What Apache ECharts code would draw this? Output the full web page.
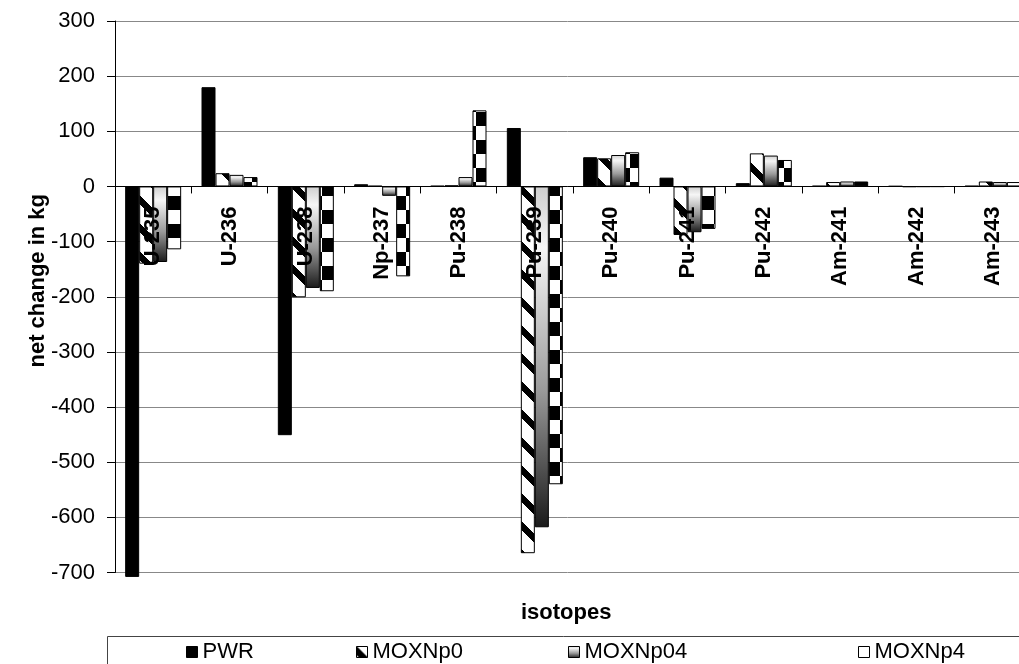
<!DOCTYPE html>
<html>
<head>
<meta charset="utf-8">
<script src="https://cdn.jsdelivr.net/npm/echarts@6/dist/echarts.min.js"></script>
<style>
  html, body { margin: 0; padding: 0; background: #fff; }
  #chart { width: 1019px; height: 664px; }
</style>
</head>
<body>
<div id="chart"></div>
<script>
// Net change in isotope inventory (kg) per fuel cycle scenario
const categories = ['U-235', 'U-236', 'U-238', 'Np-237', 'Pu-238', 'Pu-239',
                    'Pu-240', 'Pu-241', 'Pu-242', 'Am-241', 'Am-242', 'Am-243'];
const pwr      = [-708, 180, -451,    4,   1,  106, 53,  16,  6, 1,  0.5, 1];
const moxNp0   = [-140,  24, -201,    1,   2, -665, 51, -88, 60, 8, -0.8, 9];
const moxNp04  = [-137,  21, -184,  -17,  17, -618, 57, -83, 56, 9, -0.6, 8];
const moxNp4   = [-114,  17, -190, -163, 138, -540, 62, -77, 48, 9, -0.5, 8];
const seriesNames = ['PWR', 'MOXNp0', 'MOXNp04', 'MOXNp4'];
const yTicks = { min: -700, max: 300, step: 100 };

const FONT = '"Liberation Sans", Arial, sans-serif';
const GRID = { left: 115, top: 21, width: 916, height: 551.5 };

// diagonal black bands on white
function diagonalTile() {
  const c = document.createElement('canvas');
  c.width = 28; c.height = 28;
  const g = c.getContext('2d');
  g.fillStyle = '#fff'; g.fillRect(0, 0, 28, 28);
  g.fillStyle = '#000';
  for (let x = 0; x < 28; x++) {
    for (let y = 0; y < 28; y++) {
      const d = ((y - x) % 28 + 28) % 28;
      if (d < 9) g.fillRect(x, y, 1, 1);
    }
  }
  return c;
}

// large black/white checkerboard
function checkerTile() {
  const c = document.createElement('canvas');
  c.width = 28; c.height = 28;
  const g = c.getContext('2d');
  g.fillStyle = '#fff'; g.fillRect(0, 0, 28, 28);
  g.fillStyle = '#000';
  g.fillRect(0, 0, 14, 14);
  g.fillRect(14, 14, 14, 14);
  return c;
}

const gradientFill = () => new echarts.graphic.LinearGradient(0, 0, 0, 1, [
  { offset: 0, color: '#cfcfcf' },
  { offset: 0.18, color: '#f6f6f6' },
  { offset: 0.6, color: '#9a9a9a' },
  { offset: 1, color: '#1a1a1a' }
]);

const fills = [
  '#000000',
  { image: diagonalTile(), repeat: 'repeat' },
  gradientFill(),
  { image: checkerTile(), repeat: 'repeat' }
];
const values = [pwr, moxNp0, moxNp04, moxNp4];

// legend swatches
const legendSwatch = [
  { color: '#000', borderColor: '#000', borderWidth: 1 },
  { color: { image: diagonalTile(), repeat: 'repeat' }, borderColor: '#000', borderWidth: 1 },
  { color: gradientFill(), borderColor: '#000', borderWidth: 1 },
  { color: '#fff', borderColor: '#000', borderWidth: 1 }
];

// the category axis sits on the zero line of the value axis
const zeroOffset = -GRID.height * (0 - yTicks.min) / (yTicks.max - yTicks.min);

const chart = echarts.init(document.getElementById('chart'), null, { renderer: 'canvas' });

const legendLeft = [186, 356, 568, 858];

const option = {
  animation: false,
  backgroundColor: '#fff',
  textStyle: { fontFamily: FONT },
  title: {
    text: 'isotopes',
    left: 521, top: 602, padding: 0,
    textStyle: { fontFamily: FONT, fontSize: 22, fontWeight: 'bold', color: '#000' }
  },
  legend: seriesNames.map((name, i) => ({
    data: [{ name: name, itemStyle: legendSwatch[i] }],
    left: legendLeft[i], top: 641, padding: 0,
    itemWidth: 11, itemHeight: 11,
    icon: 'rect',
    textStyle: { fontFamily: FONT, fontSize: 22, color: '#000' }
  })),
  graphic: [{
    type: 'rect',
    shape: { x: 107.5, y: 636.5, width: 1000, height: 60 },
    style: { fill: 'none', stroke: '#444', lineWidth: 1 },
    silent: true
  }],
  grid: Object.assign({ containLabel: false, outerBoundsMode: 'none' }, GRID),
  xAxis: {
    type: 'category',
    data: categories,
    position: 'bottom',
    offset: zeroOffset,
    z: 10,
    axisLine: { onZero: false, lineStyle: { color: '#000', width: 1 } },
    axisTick: { show: true, length: 7, lineStyle: { color: '#000' } },
    axisLabel: {
      interval: 0, rotate: 90, margin: 20,
      fontFamily: FONT, fontSize: 22, fontWeight: 'bold', color: '#000'
    },
    splitLine: { show: false }
  },
  yAxis: {
    type: 'value',
    min: yTicks.min, max: yTicks.max, interval: yTicks.step,
    name: 'net change in kg',
    nameLocation: 'middle',
    nameGap: 66,
    nameMoveOverlap: false,
    nameTextStyle: { fontFamily: FONT, fontSize: 22, fontWeight: 'bold', color: '#000', padding: [0, 0, 0, 32] },
    axisLine: { show: true, lineStyle: { color: '#000', width: 1 } },
    axisTick: { show: true, length: 8, lineStyle: { color: '#000' } },
    axisLabel: { margin: 20, fontFamily: FONT, fontSize: 22, color: '#000' },
    splitLine: { show: true, lineStyle: { color: '#888', width: 1 } }
  },
  series: seriesNames.map((name, i) => ({
    name: name,
    type: 'bar',
    data: values[i],
    barWidth: 14,
    barGap: '0%',
    clip: false,
    itemStyle: { color: fills[i], borderColor: '#000', borderWidth: 1 }
  }))
};

chart.setOption(option);
</script>
</body>
</html>
